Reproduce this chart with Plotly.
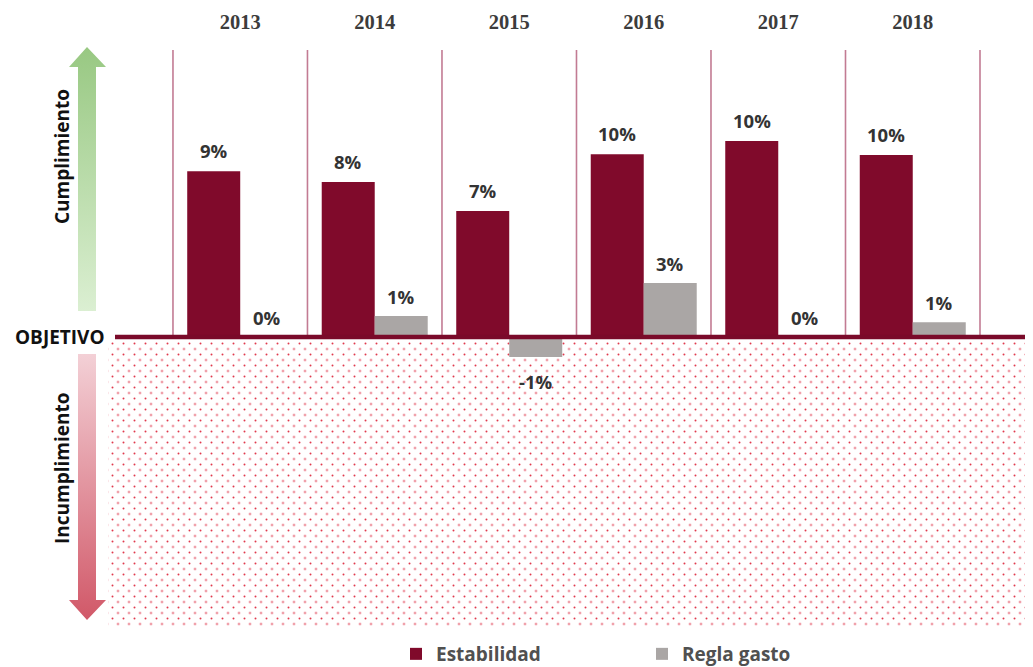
import plotly.graph_objects as go

# ---------------- data ----------------
years = ["2013", "2014", "2015", "2016", "2017", "2018"]
estabilidad = [8.78, 8.20, 6.67, 9.68, 10.37, 9.63]
regla_gasto = [0.0, 1.11, -1.06, 2.86, 0.0, 0.79]
est_labels = ["9%", "8%", "7%", "10%", "10%", "10%"]
regla_labels = ["0%", "1%", "-1%", "3%", "0%", "1%"]

SW, SH = 1033, 667          # browser window
OFF = 8                     # page body margin: screen = figure + OFF
W, H = SW - OFF, SH         # figure size (bottom 8 px fall outside the window)


def px(sx):  # screen x -> paper fraction
    return (sx - OFF) / W


def py(sy):  # screen y -> paper fraction
    return 1 - (sy - OFF) / H


C_EST = "#800a2b"
C_REG = "#aaa6a5"
LABEL_FONT = dict(family="Open Sans", size=18.5, color="#333333", weight="bold")
SIDE_FONT = dict(family="Open Sans", size=19, color="#111111", weight="bold")

fig = go.Figure()

# ---------- decoration subplot (screen pixel coordinates) ----------
fig.add_trace(go.Scatter(
    x=[87, 106, 96, 96, 78, 78, 69, 87],
    y=[47, 67, 67, 311, 311, 67, 67, 47],
    mode="lines", line=dict(width=0), fill="toself",
    fillgradient=dict(type="vertical", start=47, stop=311,
                      colorscale=[[0, "#98c882"], [1, "#dbefd2"]]),
    hoverinfo="skip", showlegend=False, xaxis="x", yaxis="y"))
fig.add_trace(go.Scatter(
    x=[78, 96, 96, 106, 87, 69, 78, 78],
    y=[354, 354, 600, 600, 620, 600, 600, 354],
    mode="lines", line=dict(width=0), fill="toself",
    fillgradient=dict(type="vertical", start=354, stop=620,
                      colorscale=[[0, "#f3d0d6"], [1, "#d15868"]]),
    hoverinfo="skip", showlegend=False, xaxis="x", yaxis="y"))

dot_pat = dict(shape=".", size=11, solidity=0.026, fgcolor="#e0394d",
               bgcolor="rgba(0,0,0,0)", fillmode="replace")
for xa, ya in (("x", "y"), ("x2", "y2")):
    fig.add_trace(go.Scatter(
        x=[108, 1040, 1040, 108, 108], y=[342, 342, 628, 628, 342],
        mode="lines", line=dict(width=0), fill="toself",
        fillcolor="rgba(0,0,0,0)", fillpattern=dot_pat,
        hoverinfo="skip", showlegend=False, xaxis=xa, yaxis=ya))

# ---------- data subplot ----------
fig.add_trace(go.Bar(x=years, y=estabilidad, name="Estabilidad",
                     marker=dict(color=C_EST, line=dict(width=0)),
                     xaxis="x3", yaxis="y3"))
fig.add_trace(go.Bar(x=years, y=regla_gasto, name="Regla gasto",
                     marker=dict(color=C_REG, line=dict(width=0)),
                     xaxis="x3", yaxis="y3"))

annotations = []
for i, (v, t) in enumerate(zip(estabilidad, est_labels)):
    annotations.append(dict(x=i, y=v, xref="x3", yref="y3", text=t,
                            showarrow=False, xshift=-26.5, yshift=21,
                            yanchor="middle", font=LABEL_FONT))
for i, (v, t) in enumerate(zip(regla_gasto, regla_labels)):
    annotations.append(dict(x=i, y=v, xref="x3", yref="y3", text=t,
                            showarrow=False, xshift=26.5,
                            yshift=(20 if v >= 0 else -24),
                            yanchor="middle", font=LABEL_FONT))

annotations += [
    dict(x=px(62), y=py(157), xref="paper", yref="paper", text="Cumplimiento",
         textangle=-90, showarrow=False, xanchor="center", yanchor="middle",
         font=SIDE_FONT),
    dict(x=px(62), y=py(468), xref="paper", yref="paper", text="Incumplimiento",
         textangle=-90, showarrow=False, xanchor="center", yanchor="middle",
         font=SIDE_FONT),
    dict(x=px(13), y=py(337), xref="paper", yref="paper", text="OBJETIVO",
         xanchor="left", yanchor="middle", showarrow=False, font=SIDE_FONT),
]

Y_TOP, Y_BOT = 15.19, -15.34
shapes = []
for i in range(len(years) + 1):
    shapes.append(dict(type="line", xref="x3", yref="y3", x0=i - 0.5, x1=i - 0.5,
                       y0=0, y1=Y_TOP, line=dict(color="#c27b93", width=1.6),
                       layer="below"))
shapes.append(dict(type="line", xref="paper", yref="paper",
                   x0=px(115), x1=1, y0=py(337), y1=py(337),
                   line=dict(color="#7a0a2a", width=4.5), layer="above"))

hidden = dict(visible=False, showgrid=False, zeroline=False, fixedrange=True)
fig.update_layout(
    width=W, height=H,
    margin=dict(l=0, r=0, t=0, b=0, pad=0),
    paper_bgcolor="white", plot_bgcolor="rgba(0,0,0,0)",
    xaxis=dict(domain=[0, 1], range=[OFF, W + OFF], **hidden),
    yaxis=dict(domain=[0, 1], range=[H + OFF, OFF], **hidden),
    xaxis2=dict(domain=[5.5 / W, 1], range=[OFF + 5.5, W + OFF], anchor="y2", **hidden),
    yaxis2=dict(domain=[0, 1 - 5.5 / H], range=[H + OFF, OFF + 5.5], anchor="x2", **hidden),
    xaxis3=dict(domain=[px(108), px(1033)], range=[-0.983, 5.894], anchor="y3",
                type="category", side="top", showgrid=False, zeroline=False,
                showline=False, ticks="", ticklabelstandoff=16,
                tickfont=dict(family="Liberation Serif", size=20.5, color="#3c3c3c",
                              weight="bold")),
    yaxis3=dict(domain=[py(627), py(50)], range=[Y_BOT, Y_TOP], anchor="x3",
                visible=False, showgrid=False, zeroline=False),
    barmode="group", bargap=0.212, bargroupgap=0,
    showlegend=True,
    legend=dict(orientation="h", x=px(396), xanchor="left", y=py(654),
                yanchor="middle", entrywidth=201, entrywidthmode="pixels",
                font=dict(family="Open Sans", size=19, color="#505050", weight="bold"),
                bgcolor="rgba(0,0,0,0)"),
    annotations=annotations,
    shapes=shapes,
)

fig.write_html("out.html")
